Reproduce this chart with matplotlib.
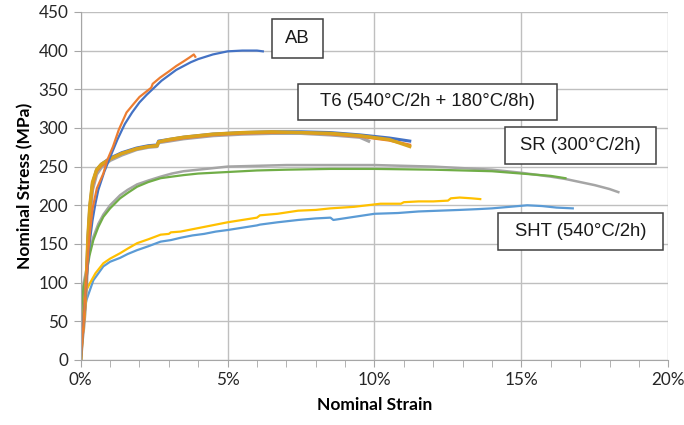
import matplotlib
matplotlib.use('Agg')
import matplotlib.pyplot as plt
from matplotlib.patches import Rectangle
from matplotlib.ticker import MultipleLocator, FuncFormatter

# strain in %, stress in MPa
ab_blue_x = [0, 0.05, 0.1, 0.2, 0.3, 0.4, 0.5, 0.6, 0.8, 1.0, 1.25, 1.5, 1.75, 2.0, 2.25, 2.5,
             2.75, 3.0, 3.25, 3.5, 3.75, 4.0, 4.5, 5.0, 5.5, 6.0, 6.2]
ab_blue_y = [0, 25, 55, 105, 150, 180, 202, 220, 243, 262, 285, 305, 320, 333, 343, 352,
             361, 368, 375, 380, 385, 389, 395, 399, 400, 400, 399]
ab_orange_x = [0, 0.1, 0.2, 0.3, 0.4, 0.55, 0.77, 0.9, 1.1, 1.3, 1.56, 1.8, 2.0, 2.2, 2.4, 2.45,
               2.7, 3.0, 3.25, 3.5, 3.7, 3.85, 3.9]
ab_orange_y = [0, 50, 110, 160, 195, 222, 241, 258, 276, 298, 320, 331, 340, 346, 352, 357,
               365, 373, 380, 386, 391, 395, 392]

t6_x = [0, 0.05, 0.1, 0.14, 0.2, 0.25, 0.31, 0.4, 0.54, 0.7, 1.0, 1.4, 1.9, 2.3, 2.6, 2.65,
        3.0, 3.5, 4.0, 4.5, 5.0, 5.5, 6.5, 7.5, 8.5, 9.5, 10.5, 11.2]
t6_blue_y = [0, 30, 50, 69, 112, 160, 198, 228, 246, 253, 261, 268, 274, 277, 278, 283,
             285, 288, 290, 292, 293, 294, 295, 295, 294, 291, 287, 283]
t6_orange_y = [0, 28, 47, 65, 108, 155, 195, 225, 244, 251, 260, 267, 273, 276, 277, 282,
               284, 287, 289, 291, 292, 293, 294, 294, 292, 289, 284, 278]
t6_yellow_y = [0, 32, 52, 72, 115, 163, 200, 230, 246, 253, 260, 267, 273, 276, 277, 282,
               285, 288, 290, 292, 293, 294, 295, 294, 293, 290, 285, 276]
t6_gray_x = [0, 0.05, 0.1, 0.14, 0.2, 0.25, 0.31, 0.4, 0.54, 0.7, 1.0, 1.4, 1.9, 2.3, 2.6, 2.65,
             3.0, 3.5, 4.0, 4.5, 5.0, 5.5, 6.5, 7.5, 8.5, 9.5, 9.8]
t6_gray_y = [0, 25, 42, 60, 100, 145, 185, 220, 240, 249, 258, 265, 272, 275, 276, 281,
             283, 286, 288, 290, 291, 292, 293, 293, 291, 288, 283]

sr_gray_x = [0, 0.03, 0.1, 0.2, 0.3, 0.43, 0.6, 0.77, 1.0, 1.34, 1.6, 1.92, 2.3, 2.72, 3.1, 3.5,
             4.0, 5.0, 6.0, 7.0, 8.5, 10.0, 12.0, 14.0, 15.0, 16.0, 16.5, 17.0, 17.5, 18.0, 18.3]
sr_gray_y = [0, 75, 100, 118, 140, 159, 176, 188, 200, 213, 220, 227, 232, 237, 241, 244,
             246, 250, 251, 252, 252, 252, 250, 246, 242, 237, 234, 230, 226, 221, 217]
sr_green_x = [0, 0.03, 0.1, 0.2, 0.3, 0.43, 0.6, 0.77, 1.0, 1.34, 1.6, 1.92, 2.3, 2.72, 3.1, 3.5,
              4.0, 5.0, 6.0, 7.0, 8.5, 10.0, 12.0, 14.0, 15.0, 16.0, 16.5]
sr_green_y = [0, 70, 95, 112, 135, 155, 172, 185, 196, 209, 216, 224, 230, 235, 237, 239,
              241, 243, 245, 246, 247, 247, 246, 244, 241, 238, 235]

sht_yellow_x = [0, 0.03, 0.14, 0.31, 0.5, 0.77, 1.0, 1.34, 1.6, 1.92, 2.3, 2.72, 3.0, 3.07, 3.4,
                3.8, 4.2, 4.6, 5.0, 5.5, 6.0, 6.1, 6.7, 7.4, 8.0, 8.5, 9.3, 10.2, 10.9, 11.0,
                11.5, 12.0, 12.5, 12.6, 12.9, 13.3, 13.6]
sht_yellow_y = [0, 60, 86, 99, 112, 125, 131, 138, 144, 151, 156, 162, 163, 165, 166,
                169, 172, 175, 178, 181, 184, 187, 189, 193, 194, 196, 198, 202, 202, 204,
                205, 205, 206, 209, 210, 209, 208]
sht_blue_x = [0, 0.03, 0.2, 0.43, 0.77, 1.0, 1.34, 1.6, 1.92, 2.3, 2.72, 3.07, 3.4, 3.8, 4.2,
              4.6, 5.0, 5.5, 6.0, 6.1, 6.7, 7.4, 8.0, 8.5, 8.6, 9.3, 10.0, 10.8, 11.5, 12.2,
              12.9, 13.5, 14.0, 14.6, 15.2, 15.7, 16.2, 16.75]
sht_blue_y = [0, 50, 78, 103, 121, 127, 132, 137, 142, 147, 153, 155, 158, 161, 163,
              166, 168, 171, 174, 175, 178, 181, 183, 184, 181, 185, 189, 190, 192, 193,
              194, 195, 196, 198, 200, 199, 197, 196]

labels = ['AB', 'T6 (540°C/2h + 180°C/8h)', 'SR (300°C/2h)', 'SHT (540°C/2h)']
# label boxes: (x0, x1, y0, y1) in data units
boxes = [(6.51, 8.24, 391, 441), (7.39, 16.22, 309.7, 357.4),
         (14.45, 19.59, 252.9, 300.6), (14.21, 19.83, 141.9, 189.7)]

plt.rcParams['font.family'] = ['Lato', 'DejaVu Sans']

fig = plt.figure(figsize=(6.84, 4.25), dpi=100)
ax = fig.add_axes([0.118, 0.153, 0.859, 0.819])

blue = '#4472C4'
orange = '#ED7D31'
gray = '#A5A5A5'
yellow = '#FFC000'
lblue = '#5B9BD5'
green = '#70AD47'

ax.plot(sht_blue_x, sht_blue_y, color=lblue, lw=1.6)
ax.plot(sht_yellow_x, sht_yellow_y, color=yellow, lw=1.6)
ax.plot(sr_gray_x, sr_gray_y, color=gray, lw=1.8)
ax.plot(sr_green_x, sr_green_y, color=green, lw=1.6)
ax.plot(t6_x, t6_blue_y, color=blue, lw=2.2)
ax.plot(t6_gray_x, t6_gray_y, color=gray, lw=2.4)
ax.plot(t6_x, t6_orange_y, color=orange, lw=2.0)
ax.plot(t6_x, t6_yellow_y, color='#D9A31C', lw=2.4)
ax.plot(ab_blue_x, ab_blue_y, color=blue, lw=1.6)
ax.plot(ab_orange_x, ab_orange_y, color=orange, lw=1.6)

for (x0, x1, y0, y1), lab in zip(boxes, labels):
    ax.add_patch(Rectangle((x0, y0), x1 - x0, y1 - y0, facecolor='white',
                           edgecolor='#404040', lw=1.1, zorder=5))
    ax.text((x0 + x1) / 2, (y0 + y1) / 2, lab, ha='center', va='center',
            fontsize=13.3, family=['Liberation Sans', 'DejaVu Sans'], color='#1a1a1a', zorder=6)

ax.set_xlim(0, 20)
ax.set_ylim(0, 450)
ax.xaxis.set_major_locator(MultipleLocator(5))
ax.xaxis.set_minor_locator(MultipleLocator(1))
ax.yaxis.set_major_locator(MultipleLocator(50))
ax.xaxis.set_major_formatter(FuncFormatter(lambda v, p: '%d%%' % v))
ax.grid(True, which='major', color='#BFBFBF', lw=1.0)
ax.set_axisbelow(True)
for s in ['top', 'right']:
    ax.spines[s].set_visible(False)
for s in ['left', 'bottom']:
    ax.spines[s].set_color('#A6A6A6')
ax.tick_params(which='both', direction='out', color='#A6A6A6', length=5, labelsize=12.3,
               labelcolor='#262626', pad=4)
ax.set_xlabel('Nominal Strain', fontsize=12.5, fontweight='bold', labelpad=6)
ax.set_ylabel('Nominal Stress (MPa)', fontsize=12.5, fontweight='bold', labelpad=4)

fig.savefig('out.png', dpi=100)
